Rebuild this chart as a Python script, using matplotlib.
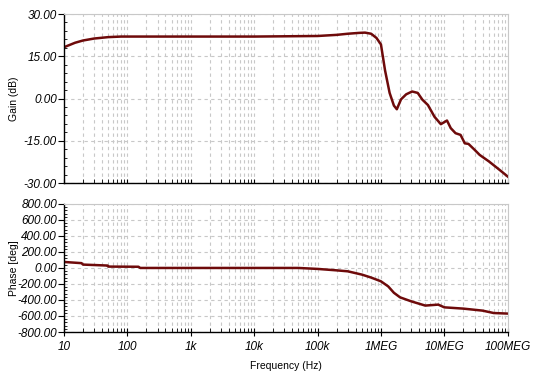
import matplotlib.pyplot as plt
from matplotlib.ticker import FixedLocator, FixedFormatter, LogLocator, NullFormatter, AutoMinorLocator
import numpy as np

# gain curve
gain_f = [10, 15, 20, 30, 50, 80, 100, 1e3, 1e4, 1e5, 2e5, 3e5, 4.5e5, 5.6e5,
          7e5, 8.5e5, 1e6, 1.16e6, 1.37e6, 1.6e6, 1.78e6, 2.07e6, 2.5e6, 3.1e6,
          3.8e6, 4.5e6, 5.5e6, 7e6, 8.8e6, 1.1e7, 1.26e7, 1.5e7, 1.8e7, 2.1e7,
          2.4e7, 3e7, 3.6e7, 5.1e7, 7.4e7, 1e8]
gain_db = [18.2, 19.8, 20.6, 21.3, 21.8, 22.0, 22.0, 22.0, 22.0, 22.2, 22.6, 23.0,
           23.3, 23.4, 23.0, 21.5, 19.2, 10.0, 2.0, -2.5, -3.8, -0.3, 1.5, 2.5,
           2.0, -0.4, -2.3, -6.5, -9.1, -7.8, -10.5, -12.3, -12.9, -15.9,
           -16.1, -18.2, -20.0, -22.4, -25.3, -27.7]

phase_f = [10, 19, 20, 49, 50, 150, 160, 1e3, 1e4, 5e4, 1e5, 2e5, 3e5, 5e5, 7e5,
           1e6, 1.3e6, 1.6e6, 2e6, 3e6, 5e6, 8e6, 1e7, 2e7, 4e7, 6e7, 1e8]
phase_deg = [75, 60, 42, 30, 17, 15, 0, 0, 0, 0, -12, -30, -42, -83, -120,
             -167, -230, -310, -367, -417, -470, -458, -492, -508, -533, -563, -570]

xticks = [10, 100, 1e3, 1e4, 1e5, 1e6, 1e7, 1e8]
xlabels = ['10', '100', '1k', '10k', '100k', '1MEG', '10MEG', '100MEG']
gain_ticks = [-30, -15, 0, 15, 30]
phase_ticks = list(range(-800, 801, 200))

plt.rcParams['font.family'] = ['Liberation Sans', 'DejaVu Sans']
line_color = '#6e0a0a'
grid_color = '#c8c8c8'

fig = plt.figure(figsize=(5.46, 3.79), dpi=100)
ax1 = fig.add_axes([0.117, 0.517, 0.813, 0.446])
ax2 = fig.add_axes([0.117, 0.124, 0.813, 0.338])


def style(ax, yticks, show_x):
    ax.set_xscale('log')
    ax.set_xlim(10, 1e8)
    ax.xaxis.set_major_locator(FixedLocator(xticks))
    ax.xaxis.set_major_formatter(FixedFormatter(xlabels if show_x else [''] * len(xticks)))
    ax.xaxis.set_minor_locator(LogLocator(base=10, subs=np.arange(2, 10)))
    ax.xaxis.set_minor_formatter(NullFormatter())
    ax.set_ylim(yticks[0], yticks[-1])
    ax.yaxis.set_major_locator(FixedLocator(yticks))
    ax.yaxis.set_major_formatter(FixedFormatter(['%.2f' % v for v in yticks]))
    ax.yaxis.set_minor_locator(AutoMinorLocator(5))
    ax.grid(True, which='both', axis='x', color=grid_color, linestyle=(0, (3, 3)), linewidth=0.8)
    ax.grid(True, which='major', axis='y', color=grid_color, linestyle=(0, (3, 3)), linewidth=0.8)
    for s in ['top', 'right']:
        ax.spines[s].set_color(grid_color)
        ax.spines[s].set_linewidth(0.8)
    for s in ['left', 'bottom']:
        ax.spines[s].set_linewidth(1.0)
    ax.tick_params(axis='y', which='major', direction='out', length=4, labelsize=8.5, pad=1)
    ax.tick_params(axis='y', which='minor', direction='in', length=2.5)
    if show_x:
        ax.tick_params(axis='x', which='major', direction='inout', length=6, labelsize=8.5)
    else:
        ax.tick_params(axis='x', which='major', direction='in', length=3)
    ax.tick_params(axis='x', which='minor', direction='in', length=3)
    for lab in ax.get_yticklabels() + ax.get_xticklabels():
        lab.set_fontstyle('italic')


style(ax1, gain_ticks, False)
ax1.plot(gain_f, gain_db, color=line_color, linewidth=1.8)
ax1.set_ylabel('Gain (dB)', fontsize=7.5)
ax1.yaxis.set_label_coords(-0.1, 0.5)

style(ax2, phase_ticks, True)
ax2.plot(phase_f, phase_deg, color=line_color, linewidth=1.8)
ax2.set_ylabel('Phase [deg]', fontsize=7.5)
ax2.yaxis.set_label_coords(-0.1, 0.5)
ax2.set_xlabel('Frequency (Hz)', fontsize=7.5, labelpad=6)

fig.savefig('out.png', dpi=100)
